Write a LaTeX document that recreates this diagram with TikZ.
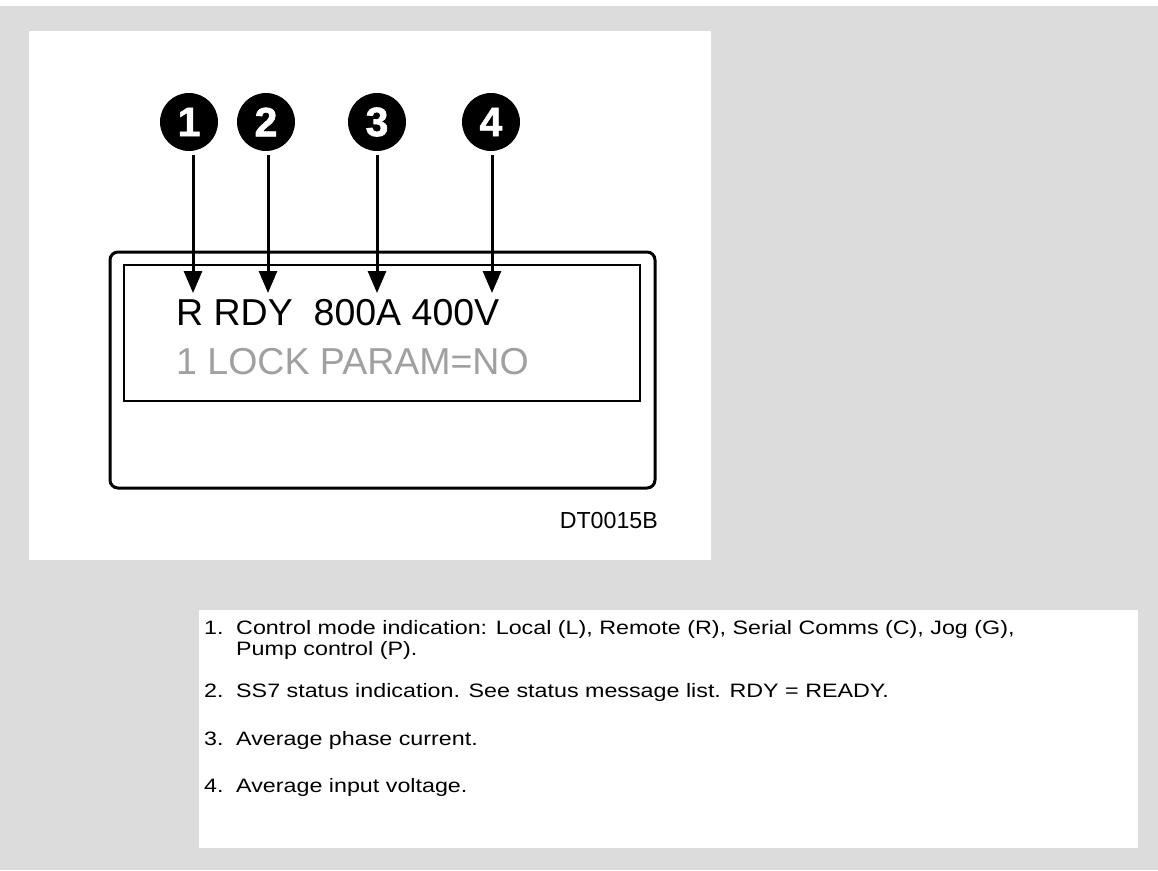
\documentclass[tikz,border=0pt]{standalone}
\usepackage{fontspec}
\setmainfont{Liberation Sans}
\newfontfamily\widesans[FakeStretch=1.2]{Liberation Sans}
\newfontfamily\heavysans[FakeBold=1.5]{Liberation Sans Bold}
\usetikzlibrary{arrows.meta}
\definecolor{bggray}{HTML}{DCDCDC}
\definecolor{lcdgray}{HTML}{A0A0A0}
\begin{document}
\begin{tikzpicture}[x=1pt,y=-1pt,
  numcirc/.style={circle,fill=black,minimum size=58pt,inner sep=0pt,text=white,font=\heavysans\fontsize{41}{41}\selectfont},
  arr/.style={line width=3pt,-{Triangle[width=18pt,length=22pt]}},
  lcd/.style={anchor=base west,inner sep=0pt,font=\fontsize{37.5}{37.5}\selectfont},
  listtxt/.style={anchor=base west,inner sep=0pt,font=\widesans\fontsize{19.4}{21}\selectfont},
]
\useasboundingbox (0,0) rectangle (1158,870);
\fill[white] (0,0) rectangle (1158,870);
\fill[bggray] (0,6) rectangle (1158,870);
\fill[white] (29,31) rectangle (711,560);
\fill[white] (199,610) rectangle (1138,848);

% display
\draw[line width=3pt,rounded corners=8pt] (110,252) rectangle (655,488);
\draw[line width=2pt] (124,265) rectangle (640,401);

% numbered circles
\node[numcirc] (c1) at (189,122) {1};
\node[numcirc] (c2) at (266,122) {2};
\node[numcirc] (c3) at (377,122) {3};
\node[numcirc] (c4) at (491,122) {4};

% arrows
\coordinate (a1s) at (193,155); \coordinate (a1e) at (193,293);
\coordinate (a2s) at (268,155); \coordinate (a2e) at (268,293);
\coordinate (a3s) at (377,155); \coordinate (a3e) at (377,293);
\coordinate (a4s) at (492,155); \coordinate (a4e) at (492,293);
\draw[arr] (a1s) -- (a1e);
\draw[arr] (a2s) -- (a2e);
\draw[arr] (a3s) -- (a3e);
\draw[arr] (a4s) -- (a4e);

% LCD text
\node[lcd] (row1) at (176,325) {R RDY\ \ 800A 400V};
\node[lcd,text=lcdgray] (row2) at (176,374) {1 LOCK PARAM=NO};

\node[anchor=base east,inner sep=0pt,font=\fontsize{23.2}{23.2}\selectfont] (code) at (658,528) {DT0015B};

% list
\node[listtxt] (n1) at (204,634) {1.};
\node[listtxt] (t1) at (236,634) {Control mode indication: Local (L), Remote (R), Serial Comms (C), Jog (G),};
\node[listtxt] (t1b) at (236,655) {Pump control (P).};
\node[listtxt] (n2) at (204,697) {2.};
\node[listtxt] (t2) at (236,697) {SS7 status indication. See status message list. RDY = READY.};
\node[listtxt] (n3) at (204,745) {3.};
\node[listtxt] (t3) at (236,745) {Average phase current.};
\node[listtxt] (n4) at (204,792) {4.};
\node[listtxt] (t4) at (236,792) {Average input voltage.};
\end{tikzpicture}
\end{document}
